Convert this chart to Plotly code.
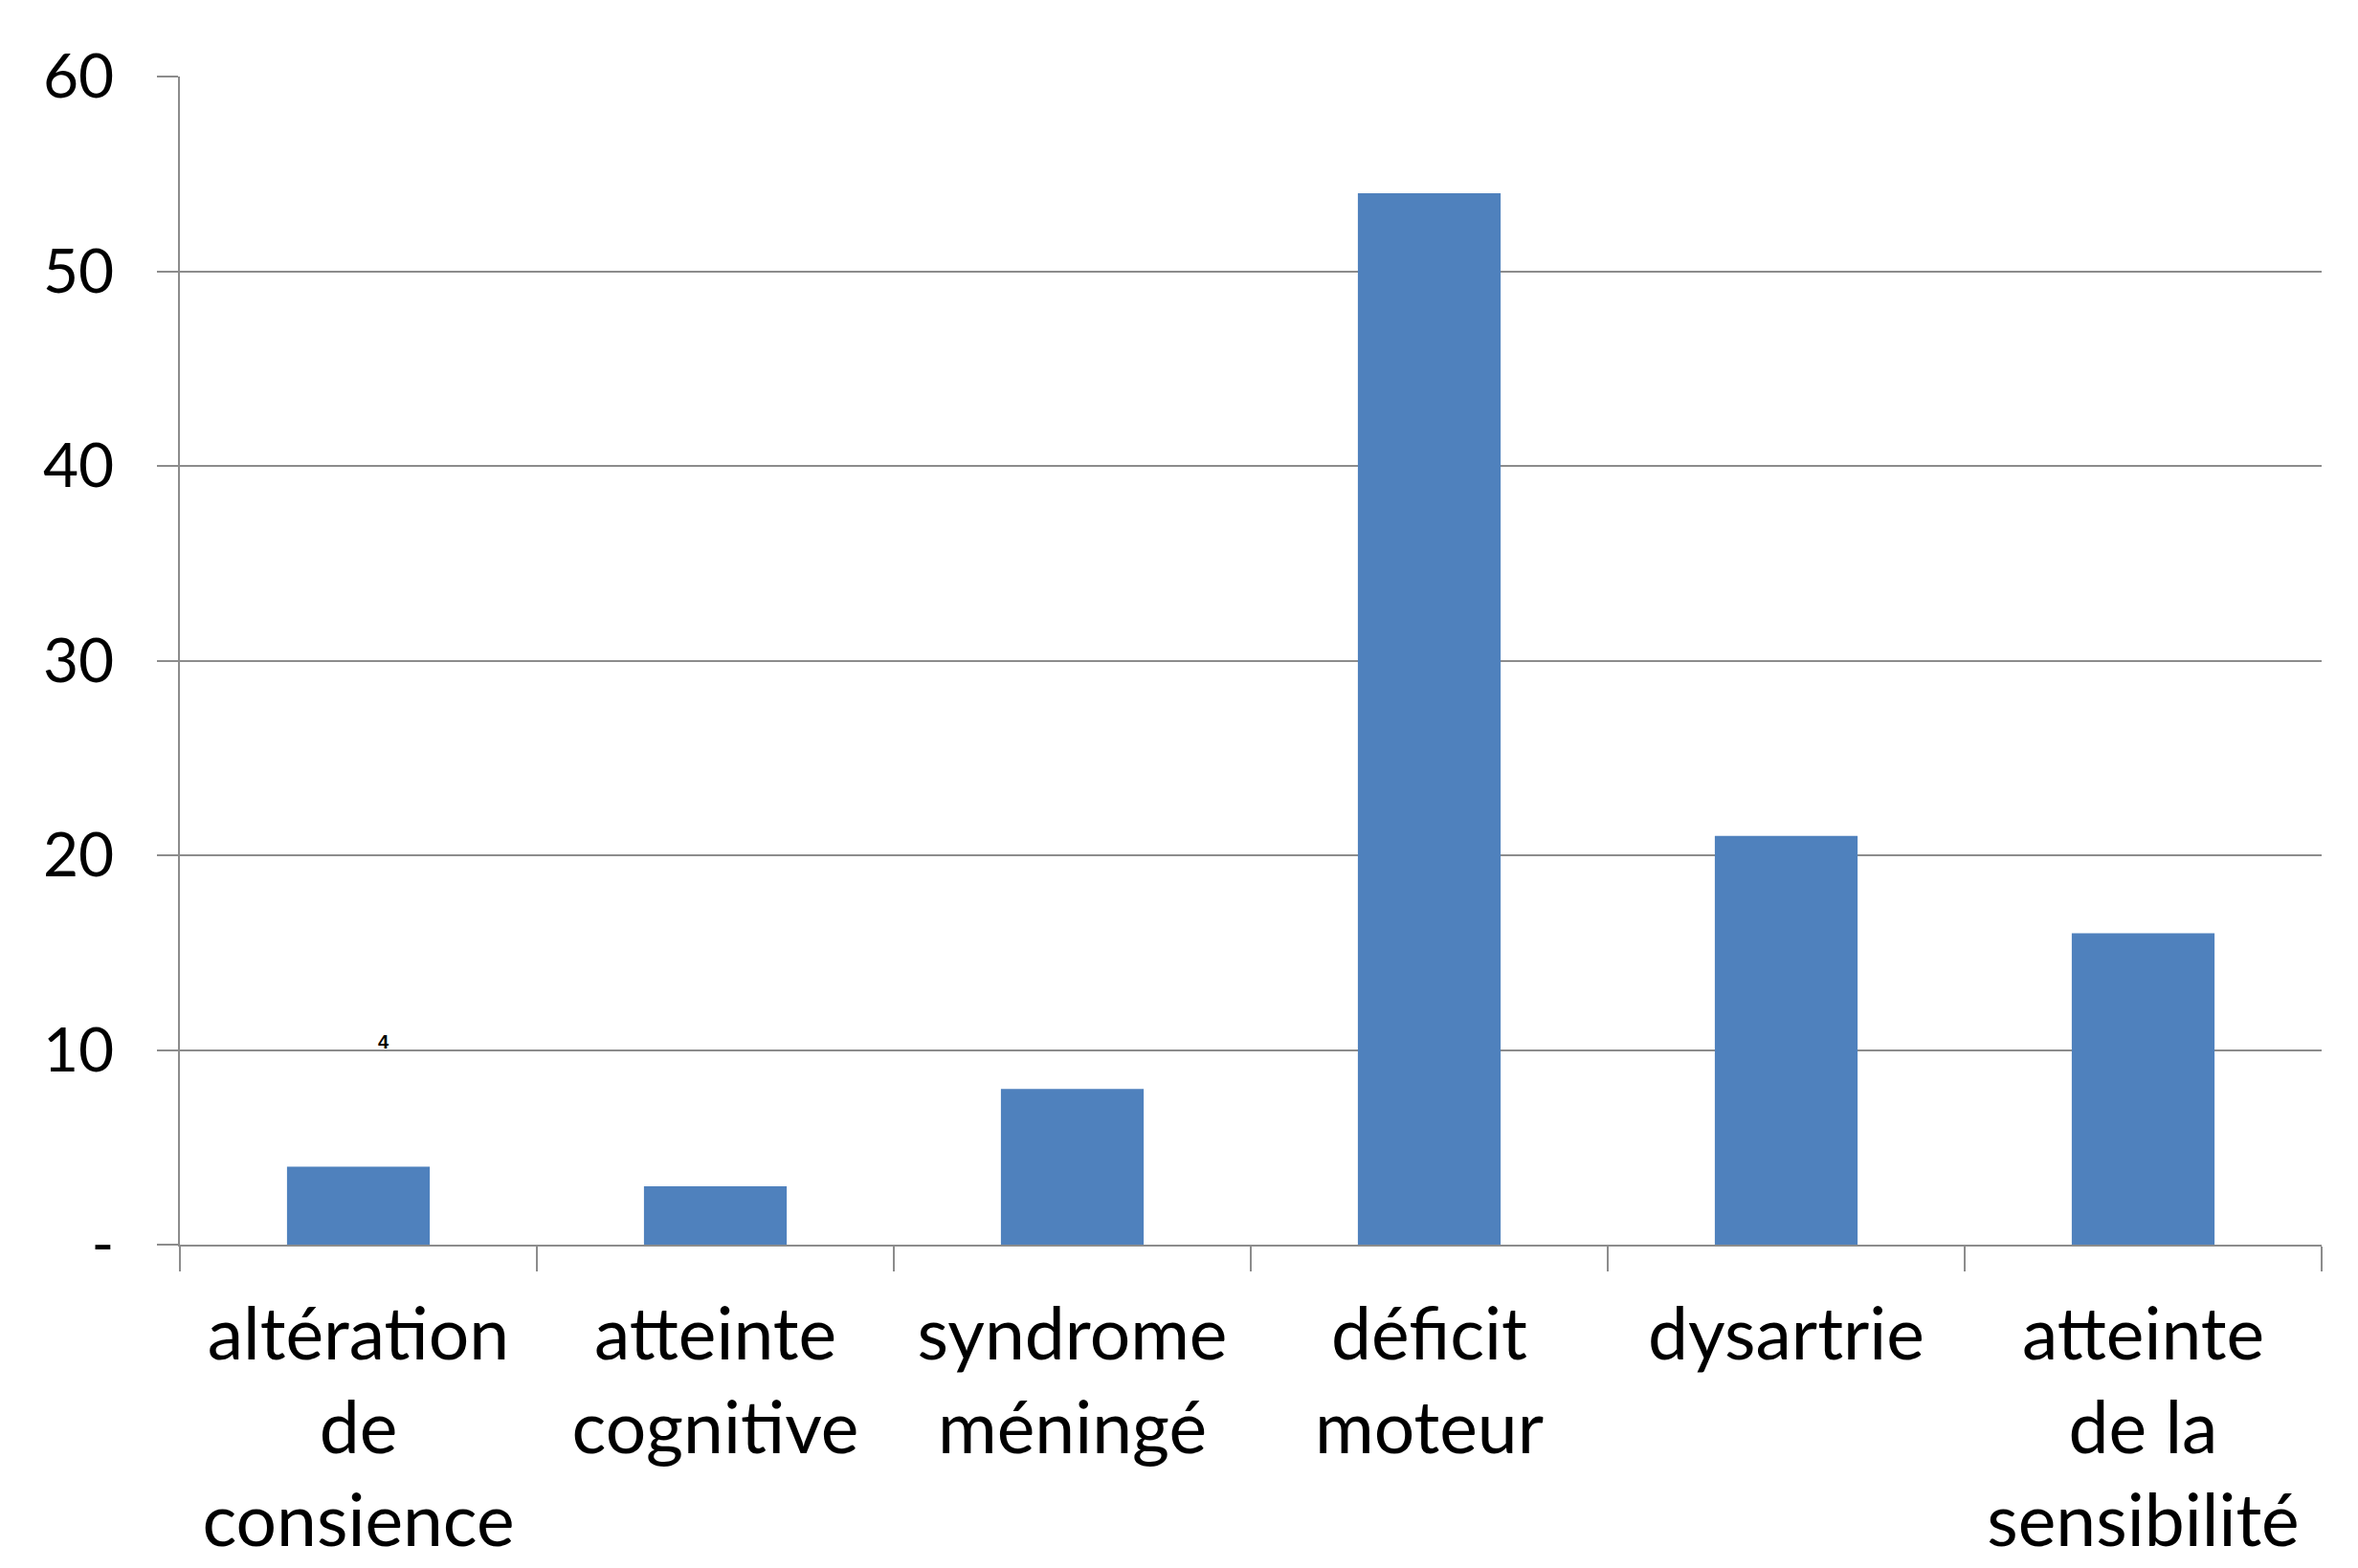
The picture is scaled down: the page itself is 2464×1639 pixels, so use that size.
import plotly.graph_objects as go

categories = ["altération<br>de<br>consience", "atteinte<br>cognitive", "syndrome<br>méningé",
              "déficit<br>moteur", "dysartrie", "atteinte<br>de la<br>sensibilité"]
values = [4, 3, 8, 54, 21, 16]
y_tickvals = [0, 10, 20, 30, 40, 50, 60]
y_ticktext = ["-", "10", "20", "30", "40", "50", "60"]
stray_label = "4"
stray_label_y = 10.4

FONT = "Lato, Open Sans, sans-serif"
GRID = "#8c8c8c"

fig = go.Figure()
fig.add_trace(go.Bar(x=categories, y=values, marker=dict(color="#4F81BD", line=dict(width=0)),
                     width=0.4))

fig.add_annotation(x=0, y=stray_label_y, xref="x", yref="y", text="<b>" + stray_label + "</b>",
                   showarrow=False, xshift=26, font=dict(family="Arial", size=20, color="black"))

fig.update_layout(
    width=2464, height=1639,
    margin=dict(l=180, r=46, t=72, b=346),
    paper_bgcolor="white", plot_bgcolor="white",
    showlegend=False,
    font=dict(family=FONT, size=66, color="black"),
    bargap=0.6,
)
fig.update_xaxes(
    showline=True, linecolor=GRID, linewidth=2,
    ticks="outside", tickson="boundaries", ticklen=26, tickcolor=GRID, tickwidth=2,
    showgrid=False, tickfont=dict(size=75, family=FONT), ticklabelstandoff=28,
    range=[-0.5, 5.5], automargin=False,
)
fig.update_yaxes(
    range=[0, 60], tickvals=y_tickvals, ticktext=y_ticktext,
    showline=True, linecolor=GRID, linewidth=2,
    showgrid=True, gridcolor=GRID, gridwidth=2,
    ticks="outside", ticklen=22, tickcolor=GRID, tickwidth=2,
    zeroline=False, tickfont=dict(size=64, family=FONT), ticklabelstandoff=32,
    automargin=False,
)

fig.write_html("out.html")
